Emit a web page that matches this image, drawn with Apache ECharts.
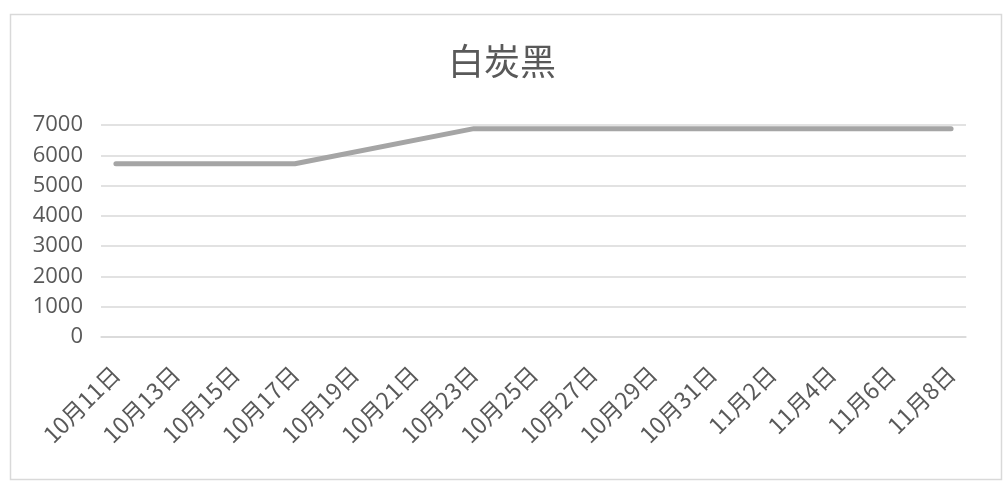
<!DOCTYPE html>
<html>
<head>
<meta charset="utf-8">
<script src="https://cdn.jsdelivr.net/npm/echarts@6/dist/echarts.min.js"></script>
<style>
html,body{margin:0;padding:0;background:#fff;}
#c{width:1004px;height:483px;}
</style>
</head>
<body>
<div id="c"></div>
<script>
const titleText = '白炭黑';
const categories = ['10月11日','10月12日','10月13日','10月14日','10月15日','10月16日','10月17日','10月18日','10月19日','10月20日','10月21日','10月22日','10月23日','10月24日','10月25日','10月26日','10月27日','10月28日','10月29日','10月30日','10月31日','11月1日','11月2日','11月3日','11月4日','11月5日','11月6日','11月7日','11月8日'];
const values = [5720,5720,5720,5720,5720,5720,5720,null,null,null,null,null,6880,6880,6880,6880,6880,6880,6880,6880,6880,6880,6880,6880,6880,6880,6880,6880,6880];
const yMin = 0, yMax = 7000, yStep = 1000;

const chart = echarts.init(document.getElementById('c'));
chart.setOption({
  animation: false,
  backgroundColor: '#fff',
  graphic: [{
    type: 'rect', left: 8, top: 12, z: -1,
    shape: { width: 991, height: 465 },
    style: { fill: 'none', stroke: '#d9d9d9', lineWidth: 1.5 }
  }],
  title: {
    text: titleText, left: 'center', top: 38,
    textStyle: { fontFamily: 'Noto Sans CJK SC', fontWeight: 'normal', fontSize: 36, color: '#595959' }
  },
  grid: { left: 101, right: 38, top: 125, bottom: 146, containLabel: false },
  xAxis: {
    type: 'category', data: categories, boundaryGap: true,
    axisLine: { lineStyle: { color: '#d9d9d9', width: 1.5 } },
    axisTick: { interval: 1, length: 8, lineStyle: { color: '#d9d9d9', width: 1.5 } },
    axisLabel: { interval: 1, rotate: 45, margin: 33, fontSize: 23, color: '#595959', fontFamily: 'Noto Sans CJK SC' },
    splitLine: { show: false }
  },
  yAxis: {
    type: 'value', min: yMin, max: yMax, interval: yStep,
    axisLine: { show: false }, axisTick: { show: false },
    axisLabel: { margin: 18, fontSize: 22, color: '#595959', fontFamily: 'Open Sans', formatter: v => String(v) },
    splitLine: { lineStyle: { color: '#d9d9d9', width: 1.5 } }
  },
  series: [{
    type: 'line', data: values, connectNulls: true, showSymbol: false, symbol: 'none',
    lineStyle: { color: '#a5a5a5', width: 5, cap: 'round', join: 'round' }
  }]
});
</script>
</body>
</html>
